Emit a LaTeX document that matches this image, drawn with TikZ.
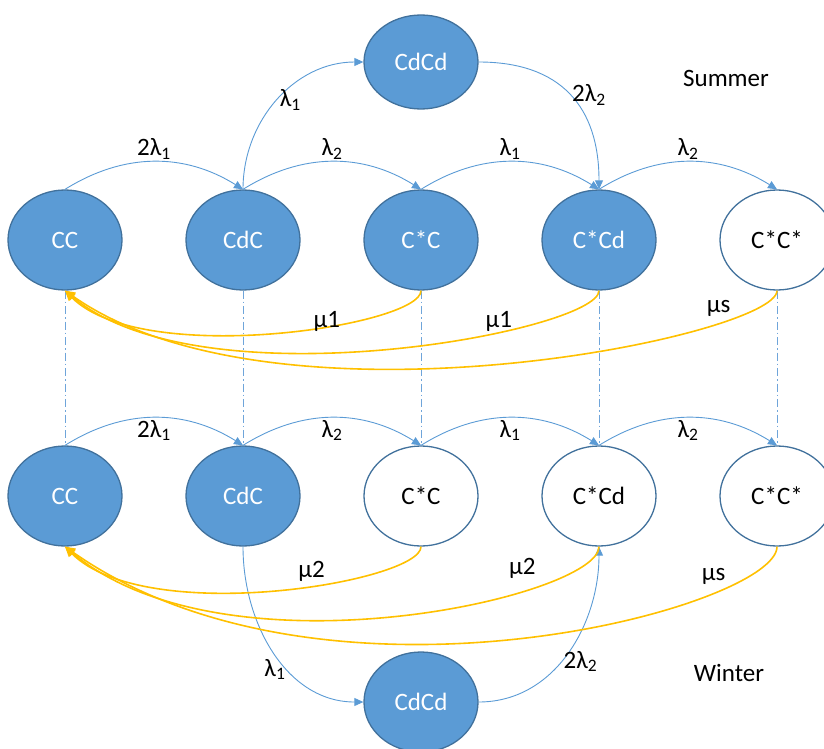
\documentclass[tikz,border=0pt]{standalone}
\usepackage{fontspec}
\setmainfont{Carlito}
\usetikzlibrary{positioning, shapes.geometric, arrows.meta}
\definecolor{nodeblue}{HTML}{5B9BD5}
\definecolor{rimblue}{HTML}{41719C}
\definecolor{lineblue}{HTML}{5B9BD5}
\definecolor{dashblue}{HTML}{6FA5DA}
\definecolor{backgold}{HTML}{FFC000}

\begin{document}
\begin{tikzpicture}[x=1pt, y=1pt, node distance=178pt,
  every node/.style={font=\fontsize{25}{30}\selectfont, inner sep=2pt, text=black},
  chain state/.style={ellipse, draw=rimblue, line width=1.3pt,
    minimum width=114pt, minimum height=100pt, inner sep=0pt},
  full state/.style={chain state, fill=nodeblue, text=white},
  open state/.style={chain state, fill=white, text=black},
  rate/.style={color=lineblue, line width=0.9pt, -{Triangle[length=9pt,width=8pt]}},
  repair/.style={color=backgold, line width=1.6pt, -{Triangle[length=10pt,width=9pt]}},
  link/.style={color=dashblue, line width=0.9pt, dash pattern=on 8pt off 3pt on 1.5pt off 3pt}]

\useasboundingbox (0,0) rectangle (824,-749);

% summer
\node[full state] (sCC) at (65,-240) {CC};
\node[full state] (sCdC) [right of=sCC] {CdC};
\node[full state] (sCsC) [right of=sCdC] {C*C};
\node[full state] (sCsCd) [right of=sCsC] {C*Cd};
\node[open state] (sCsCs) [right of=sCsCd] {C*C*};
\node[full state, minimum height=94pt] (sCdCd) [above of=sCsC] {CdCd};

% winter
\node[full state] (wCC) [below of=sCC, node distance=256pt] {CC};
\node[full state] (wCdC) [right of=wCC] {CdC};
\node[open state] (wCsC) [right of=wCdC] {C*C};
\node[open state] (wCsCd) [right of=wCsC] {C*Cd};
\node[open state] (wCsCs) [right of=wCsCd] {C*C*};
\node[full state] (wCdCd) [below of=wCsC, node distance=206pt] {CdCd};

\node (summer) at (726,-78) {Summer};
\node (winter) at (729,-673) {Winter};

\path[link]
(sCC) edge (wCC)
(sCdC) edge (wCdC)
(sCsC) edge (wCsC)
(sCsCd) edge (wCsCd)
(sCsCs) edge (wCsCs)
;

\path[rate]
(sCC.north) edge[bend left=32] node[above] {2λ\textsubscript{1}} (sCdC.north)
(sCdC.north) edge[bend left=32] node[above] {λ\textsubscript{2}} (sCsC.north)
(sCsC.north) edge[bend left=32] node[above] {λ\textsubscript{1}} (sCsCd.north)
(sCsCd.north) edge[bend left=32] node[above] {λ\textsubscript{2}} (sCsCs.north)
(sCdC.north) edge[out=90, in=180] node[right] {λ\textsubscript{1}} (sCdCd.west)
(sCdCd.east) edge[out=0, in=90, looseness=1.2] node[right] {2λ\textsubscript{2}} (sCsCd.north)
;

\path[rate]
(wCC.north) edge[bend left=32] node[below] {2λ\textsubscript{1}} (wCdC.north)
(wCdC.north) edge[bend left=32] node[below] {λ\textsubscript{2}} (wCsC.north)
(wCsC.north) edge[bend left=32] node[below] {λ\textsubscript{1}} (wCsCd.north)
(wCsCd.north) edge[bend left=32] node[below] {λ\textsubscript{2}} (wCsCs.north)
(wCdC.south) edge[out=-90, in=180] node[pos=0.6, left] {λ\textsubscript{1}} (wCdCd.west)
(wCdCd.east) edge[out=0, in=-90] node[pos=0.45, right] {2λ\textsubscript{2}} (wCsCd.south)
;

\path[repair]
(sCsC.south) edge[out=-90, in=-45, out distance=35pt, in distance=110pt] node[pos=0.38, above=-7pt] {μ1} (sCC.south)
(sCsCd.south) edge[out=-90, in=-40, out distance=40pt, in distance=180pt] node[pos=0.32, above=-2pt] {μ1} (sCC.south)
(sCsCs.south) edge[out=-90, in=-35, out distance=45pt, in distance=260pt] node[pos=0.18, above left] {μs} (sCC.south)
;

\path[repair]
(wCsC.south) edge[out=-90, in=-45, out distance=35pt, in distance=115pt] node[pos=0.38, above left] {μ2} (wCC.south)
(wCsCd.south) edge[out=-90, in=-40, out distance=50pt, in distance=210pt] node[pos=0.24, above left=6pt] {μ2} (wCC.south)
(wCsCs.south) edge[out=-90, in=-35, out distance=60pt, in distance=320pt] node[pos=0.2, above left] {μs} (wCC.south)
;

\end{tikzpicture}
\end{document}
